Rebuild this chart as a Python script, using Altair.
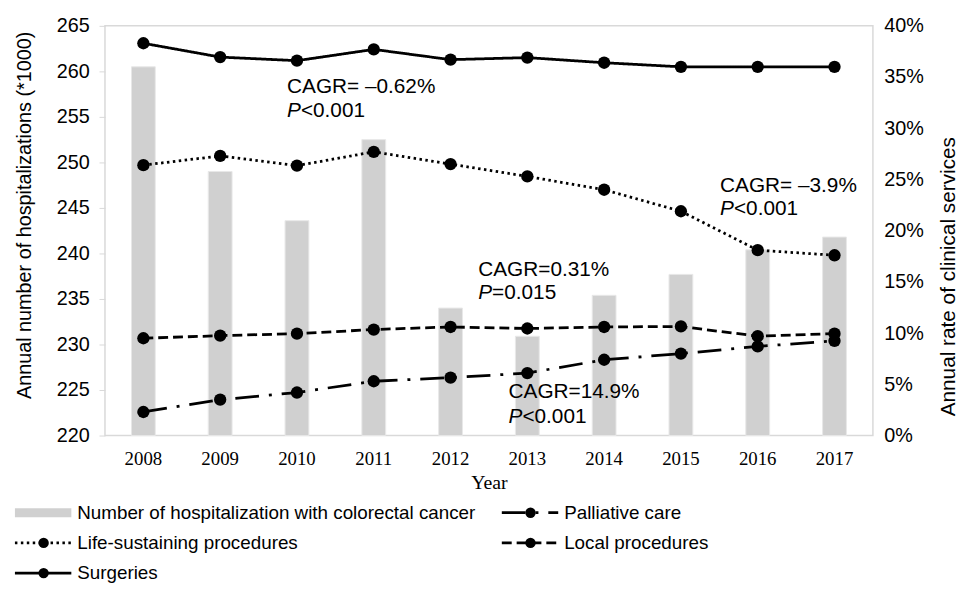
import altair as alt
import pandas as pd

years = ["2008", "2009", "2010", "2011", "2012", "2013", "2014", "2015", "2016", "2017"]
hospitalizations = [260.5, 249.0, 243.6, 252.5, 234.0, 230.9, 235.4, 237.7, 240.4, 241.8]
surgeries = [38.3, 36.95, 36.6, 37.7, 36.7, 36.9, 36.4, 36.0, 36.0, 36.0]
life_sustaining = [26.4, 27.3, 26.35, 27.7, 26.5, 25.3, 24.0, 21.9, 18.1, 17.6]
local_procedures = [9.5, 9.75, 9.95, 10.35, 10.6, 10.45, 10.6, 10.65, 9.7, 9.95]
palliative_care = [2.3, 3.5, 4.2, 5.3, 5.65, 6.1, 7.4, 8.0, 8.7, 9.25]

bar_label = "Number of hospitalization with colorectal cancer"
series_names = ["Surgeries", "Life-sustaining procedures", "Local procedures", "Palliative care"]
series_values = [surgeries, life_sustaining, local_procedures, palliative_care]
series_dash = [[1, 0], [2.5, 3.5], [10, 5], [24, 10, 3, 10]]

annot_years = ["2010", "2016", "2012", "2013"]
annot_cagr = ["CAGR= \u20130.62%", "CAGR= \u20133.9%", "CAGR=0.31%", "CAGR=14.9%"]
annot_p_rest = ["<0.001", "<0.001", "=0.015", "<0.001"]
annot_rate_line1 = [34.0, 24.4, 16.2, 4.2]
annot_rate_line2 = [31.7, 22.1, 13.9, 1.8]
annot_dx = [-10, -38, 28, -19]

legend_labels = [bar_label, "Palliative care", "Life-sustaining procedures", "Local procedures", "Surgeries"]
legend_col = [0, 1, 0, 1, 0]
legend_row = [0, 0, 1, 1, 2]

FONT = "Liberation Sans"
SERIF = "Liberation Serif"
W, H = 776, 414
PLOT_LEFT = 106  # page offset of plot area, used to map legend layout

bar_df = pd.DataFrame({"year": years, "hosp": hospitalizations})
line_df = pd.DataFrame(
    [{"year": y, "series": s, "rate": v}
     for s, vals in zip(series_names, series_values)
     for y, v in zip(years, vals)]
)

x_enc = alt.X(
    "year:O",
    title="Year",
    scale=alt.Scale(paddingInner=0.69, paddingOuter=0.345),
    axis=alt.Axis(labelAngle=0, labelFont=SERIF, labelFontSize=19, titleFont=SERIF,
                  titleFontSize=20, titleFontWeight="normal", ticks=False, domain=False,
                  labelPadding=14, titlePadding=5, labelColor="black", titleColor="black"),
)

hosp_y = alt.Y(
    "hosp:Q",
    scale=alt.Scale(domain=[220, 265], nice=False, zero=False),
    axis=alt.Axis(values=list(range(220, 266, 5)), title="Annual number of hospitalizations (*1000)",
                  grid=False, domain=False, tickColor="#d9d9d9", tickSize=6, labelPadding=10,
                  titlePadding=22, labelFontSize=20, titleFontSize=20, titleFontWeight="normal",
                  titleY=191, labelColor="black", titleColor="black", labelFont=FONT, titleFont=FONT),
)

rate_y = alt.Y(
    "rate:Q",
    scale=alt.Scale(domain=[0, 40], nice=False),
    axis=alt.Axis(orient="right", values=list(range(0, 41, 5)), labelExpr="datum.value + '%'",
                  title="Annual rate of clinical services", grid=False, domain=False, ticks=False,
                  labelPadding=11, titlePadding=14, labelFontSize=20, titleFontSize=21,
                  titleFontWeight="normal", titleAngle=270, titleBaseline="top", titleY=253,
                  labelColor="black", titleColor="black", labelFont=FONT, titleFont=FONT),
)

dash_scale = alt.Scale(domain=series_names, range=series_dash)

bars = alt.Chart(bar_df).mark_bar(color="#d0d0d0", stroke="#e8e8e8", strokeWidth=1).encode(
    x=x_enc, y=hosp_y, y2=alt.Y2Datum(220)
)

lines = alt.Chart(line_df).mark_line(color="black", strokeWidth=2.8).encode(
    x=x_enc, y=rate_y,
    strokeDash=alt.StrokeDash("series:N", scale=dash_scale, legend=None),
)
points = alt.Chart(line_df).mark_circle(color="black", size=155, opacity=1).encode(
    x=x_enc, y=rate_y, detail="series:N"
)

text_layers = []
for yr, cagr, rest, r1, r2, dx in zip(annot_years, annot_cagr, annot_p_rest,
                                      annot_rate_line1, annot_rate_line2, annot_dx):
    d1 = pd.DataFrame({"year": [yr], "rate": [r1], "label": [cagr]})
    d2 = pd.DataFrame({"year": [yr], "rate": [r2], "label": ["P"]})
    d3 = pd.DataFrame({"year": [yr], "rate": [r2], "label": [rest]})
    text_layers.append(alt.Chart(d1).mark_text(align="left", baseline="middle", dx=dx,
                                               fontSize=21, font=FONT, color="black")
                       .encode(x=x_enc, y=rate_y, text="label:N"))
    text_layers.append(alt.Chart(d2).mark_text(align="left", baseline="middle", dx=dx,
                                               fontSize=21, font=FONT, fontStyle="italic", color="black")
                       .encode(x=x_enc, y=rate_y, text="label:N"))
    text_layers.append(alt.Chart(d3).mark_text(align="left", baseline="middle", dx=dx + 14,
                                               fontSize=21, font=FONT, color="black")
                       .encode(x=x_enc, y=rate_y, text="label:N"))

rate_layer = alt.layer(lines, points, *text_layers)

main = alt.layer(bars, rate_layer).resolve_scale(y="independent").properties(
    width=W, height=H, view=alt.ViewBackground(stroke="#d9d9d9", strokeWidth=1.5)
)

# legend panel (x positions expressed in page pixels through the scale range)
LW = 700
leg_df = pd.DataFrame({"label": legend_labels, "col": legend_col, "row": legend_row,
                       "series": legend_labels})
leg_base = alt.Chart(leg_df).transform_calculate(
    x0="15 + datum.col * 492", x1="15 + datum.col * 492 + 57",
    xc="15 + datum.col * 492 + 29", xt="15 + datum.col * 492 + 63"
)
leg_x_scale = alt.Scale(domain=[0, LW], range=[-PLOT_LEFT, LW - PLOT_LEFT], nice=False, zero=True)
leg_y = alt.Y("row:Q", scale=alt.Scale(domain=[0, 2], range=[19, 80]), axis=None)

leg_bar = leg_base.transform_filter(alt.datum.label == bar_label).mark_rule(
    color="#d0d0d0", strokeWidth=9
).encode(x=alt.X("x0:Q", scale=leg_x_scale, axis=None), x2="x1:Q", y=leg_y)
leg_lines = leg_base.transform_filter(alt.datum.label != bar_label).mark_rule(
    color="black", strokeWidth=2.8
).encode(x=alt.X("x0:Q", scale=leg_x_scale, axis=None), x2="x1:Q", y=leg_y,
         strokeDash=alt.StrokeDash("series:N", scale=dash_scale, legend=None))
leg_pts = leg_base.transform_filter(alt.datum.label != bar_label).mark_circle(
    color="black", size=110, opacity=1
).encode(x=alt.X("xc:Q", scale=leg_x_scale, axis=None), y=leg_y)
leg_text = leg_base.mark_text(align="left", baseline="middle", fontSize=19, font=FONT,
                              color="black").encode(
    x=alt.X("xt:Q", scale=leg_x_scale, axis=None), y=leg_y, text="label:N")

legend = alt.layer(leg_bar, leg_lines, leg_pts, leg_text).properties(
    width=LW, height=89, view=alt.ViewBackground(strokeOpacity=0)
)

chart = alt.vconcat(main, legend, spacing=0).properties(
    padding={"left": 2, "top": 4, "right": 0, "bottom": 0}
).configure(font=FONT)

chart.save("out.html", embed_options={"renderer": "svg", "actions": False})
